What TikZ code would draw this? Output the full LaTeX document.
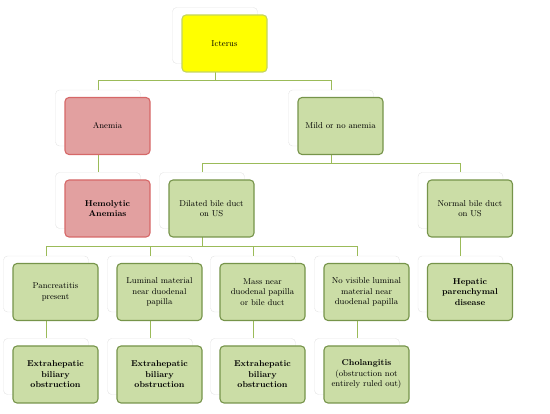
\documentclass[tikz,border=0pt]{standalone}
\usetikzlibrary{positioning}
\definecolor{gfill}{RGB}{203,221,166}
\definecolor{gline}{RGB}{118,148,74}
\definecolor{rfill}{RGB}{226,160,160}
\definecolor{rline}{RGB}{214,104,104}
\definecolor{yfill}{RGB}{255,255,0}
\definecolor{yline}{RGB}{196,212,96}
\definecolor{conncol}{RGB}{155,187,89}
\tikzset{
  card/.style={draw=black!10, fill=white, rounded corners=4pt, minimum width=85pt, minimum height=56pt, inner sep=0pt},
  box/.style={rounded corners=4pt, minimum width=85pt, minimum height=57pt, inner sep=1pt, align=center, text width=82pt, font=\fontsize{8.5}{10.5}\selectfont, text=black, line width=1.1pt},
  gbox/.style={box, draw=gline, fill=gfill},
  rbox/.style={box, draw=rline, fill=rfill},
  ybox/.style={box, draw=yline, fill=yfill},
  conn/.style={draw=conncol, line width=1pt},
}
\begin{document}
\begin{tikzpicture}[x=1pt,y=-1pt]
\useasboundingbox (0,0) rectangle (550,414);
% back cards
\foreach \n/\x/\y in {ic/224.5/43.5, an/107.5/126, mi/340.5/126, he/107.5/208.5, di/211.5/208.5, no/470/208.5,
  pa/55.5/292, lu/159.5/292, ma/262.5/292, nv/366.5/292, hp/470/292,
  e1/55.5/374.5, e2/159.5/374.5, e3/262.5/374.5, ch/366.5/374.5}
  \node[card] (\n-c) at (\x-9.5,\y-8) {};
% connectors
\draw[conn] (ic-c.south) |- ([yshift=9pt]an-c.north) -- (an-c.north);
\draw[conn] (ic-c.south) |- ([yshift=9pt]mi-c.north) -- (mi-c.north);
\draw[conn] (an-c.south) -- (he-c.north);
\draw[conn] (mi-c.south) |- ([yshift=9pt]di-c.north) -- (di-c.north);
\draw[conn] (mi-c.south) |- ([yshift=9pt]no-c.north) -- (no-c.north);
\foreach \c in {pa,lu,ma,nv}
  \draw[conn] (di-c.south) |- ([yshift=9pt]\c-c.north) -- (\c-c.north);
\draw[conn] (no-c.south) -- (hp-c.north);
\draw[conn] (pa-c.south) -- (e1-c.north);
\draw[conn] (lu-c.south) -- (e2-c.north);
\draw[conn] (ma-c.south) -- (e3-c.north);
\draw[conn] (nv-c.south) -- (ch-c.north);
% boxes
\node[ybox] (ic) at (224.5,43.5) {Icterus};
\node[rbox] (an) at (107.5,126) {Anemia};
\node[gbox] (mi) at (340.5,126) {Mild or no anemia};
\node[rbox] (he) at (107.5,208.5) {\textbf{Hemolytic}\\\textbf{Anemias}};
\node[gbox] (di) at (211.5,208.5) {Dilated bile duct\\on US};
\node[gbox] (no) at (470,208.5) {Normal bile duct\\on US};
\node[gbox] (pa) at (55.5,292) {Pancreatitis\\present};
\node[gbox] (lu) at (159.5,292) {Luminal material\\near duodenal\\papilla};
\node[gbox] (ma) at (262.5,292) {Mass near\\duodenal papilla\\or bile duct};
\node[gbox] (nv) at (366.5,292) {No visible luminal\\material near\\duodenal papilla};
\node[gbox] (hp) at (470,292) {\textbf{Hepatic}\\\textbf{parenchymal}\\\textbf{disease}};
\node[gbox] (e1) at (55.5,374.5) {\textbf{Extrahepatic}\\\textbf{biliary}\\\textbf{obstruction}};
\node[gbox] (e2) at (159.5,374.5) {\textbf{Extrahepatic}\\\textbf{biliary}\\\textbf{obstruction}};
\node[gbox] (e3) at (262.5,374.5) {\textbf{Extrahepatic}\\\textbf{biliary}\\\textbf{obstruction}};
\node[gbox] (ch) at (366.5,374.5) {\textbf{Cholangitis}\\(obstruction not\\entirely ruled out)};
\end{tikzpicture}
\end{document}
